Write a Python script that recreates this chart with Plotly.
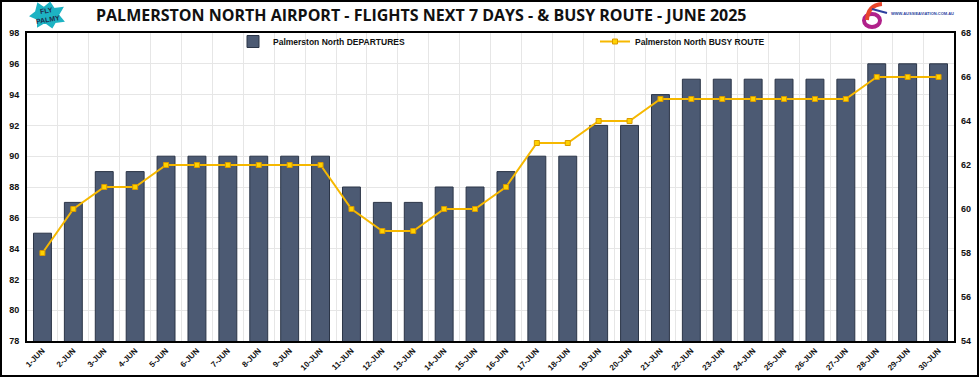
import plotly.graph_objects as go

dates = [f"{d}-JUN" for d in range(1, 31)]
departures = [85, 87, 89, 89, 90, 90, 90, 90, 90, 90,
              88, 87, 87, 88, 88, 89, 90, 90, 92, 92,
              94, 95, 95, 95, 95, 95, 95, 96, 96, 96]
busy_route = [58, 60, 61, 61, 62, 62, 62, 62, 62, 62,
              60, 59, 59, 60, 60, 61, 63, 63, 64, 64,
              65, 65, 65, 65, 65, 65, 65, 66, 66, 66]
left_ticks = list(range(78, 99, 2))
right_ticks = list(range(54, 69, 2))

title_text = "PALMERSTON NORTH AIRPORT - FLIGHTS NEXT 7 DAYS - & BUSY ROUTE - JUNE 2025"

fig = go.Figure()
fig.add_trace(go.Bar(
    x=dates, y=departures, name="Palmerston North DEPARTURES",
    marker=dict(color="#4c5a73", line=dict(color="#2b3547", width=1)),
    width=0.58, legend="legend",
))
fig.add_trace(go.Scatter(
    x=dates, y=busy_route, name="Palmerston North BUSY ROUTE", yaxis="y2",
    mode="lines+markers",
    line=dict(color="#f6b800", width=2),
    marker=dict(symbol="square", size=5, color="#ffd200", line=dict(color="#d99a00", width=1)),
    legend="legend2",
))

L, R, T, B = 27, 26, 33, 37
W, H = 980, 378
pw, ph = W - L - R, H - T - B

def px_x(p):
    return (p - L) / pw

def px_y(p):
    return (H - B - p) / ph

tick_font = dict(family="Liberation Sans", size=9, color="#111111", weight="bold")
legend_font = dict(family="Liberation Sans", size=8.5, color="#111111", weight="bold")

fig.update_layout(
    width=W, height=H,
    margin=dict(l=L, r=R, t=T, b=B, autoexpand=False),
    paper_bgcolor="white", plot_bgcolor="white",
    xaxis=dict(
        type="category", tickangle=-45,
        tickfont=dict(family="Liberation Sans", size=8, color="#111111", weight="bold"),
        showgrid=True, gridcolor="#e6e6e6", gridwidth=1, tickson="boundaries", ticks="",
        showline=True, linecolor="black", linewidth=2, mirror=True, automargin=False,
        range=[-0.5, 29.5],
    ),
    yaxis=dict(
        range=[78, 98], tickvals=left_ticks, tickfont=tick_font,
        showgrid=True, gridcolor="#e6e6e6", gridwidth=1, zeroline=False,
        showline=True, linecolor="black", linewidth=2, mirror=True, automargin=False,
        ticks="", ticklabelstandoff=4,
    ),
    yaxis2=dict(
        range=[54, 68], tickvals=right_ticks, tickfont=tick_font,
        overlaying="y", side="right", showgrid=False, zeroline=False,
        showline=False, automargin=False, ticks="", ticklabelstandoff=6,
    ),
    legend=dict(
        x=px_x(233), y=px_y(27), xanchor="left", yanchor="top", orientation="h",
        bgcolor="rgba(0,0,0,0)", font=legend_font, itemwidth=30,
    ),
    legend2=dict(
        x=px_x(595), y=px_y(27), xanchor="left", yanchor="top", orientation="h",
        bgcolor="rgba(0,0,0,0)", font=legend_font, itemwidth=30,
    ),
    showlegend=True,
)

# Title
fig.add_annotation(
    text=title_text, xref="paper", yref="paper", x=px_x(421), y=px_y(15),
    xanchor="center", yanchor="middle", showarrow=False,
    font=dict(family="Open Sans", size=16, color="#111111", weight="bold"),
)

shapes = []
# Outer frame
shapes.append(dict(type="rect", xref="paper", yref="paper",
                   x0=px_x(1), x1=px_x(978), y0=px_y(376), y1=px_y(1),
                   line=dict(color="black", width=2), fillcolor="rgba(0,0,0,0)", layer="above"))
# Left logo: teal blob
pts = [(38, 4), (44, 8), (50, 3), (54, 9), (62, 8), (58, 15), (63, 21), (55, 22), (52, 27),
       (45, 22), (38, 26), (38, 19), (31, 16), (36, 12)]
path = "M " + " L ".join(f"{px_x(x):.4f},{px_y(y):.4f}" for x, y in pts) + " Z"
shapes.append(dict(type="path", xref="paper", yref="paper", path=path,
                   fillcolor="#1db3c3", line=dict(color="#1db3c3", width=2)))
# Right logo: stylised "6"
shapes.append(dict(type="circle", xref="paper", yref="paper",
                   x0=px_x(864), x1=px_x(880), y0=px_y(27), y1=px_y(14),
                   fillcolor="rgba(0,0,0,0)", line=dict(color="#b0208a", width=4)))
shapes.append(dict(type="path", xref="paper", yref="paper",
                   path=f"M {px_x(867):.4f},{px_y(20):.4f} Q {px_x(868):.4f},{px_y(5):.4f} {px_x(882):.4f},{px_y(4):.4f}",
                   line=dict(color="#e8452c", width=4)))
shapes.append(dict(type="line", xref="paper", yref="paper",
                   x0=px_x(872), x1=px_x(887), y0=px_y(9), y1=px_y(13),
                   line=dict(color="#2b3f9e", width=2)))
fig.update_layout(shapes=shapes)

fig.add_annotation(
    text="<b>FLY<br>PALMY</b>", xref="paper", yref="paper", x=px_x(47), y=px_y(15),
    xanchor="center", yanchor="middle", showarrow=False, textangle=-10,
    font=dict(family="Liberation Sans Narrow, Liberation Sans", size=7, color="#1d2b4a"),
)
fig.add_annotation(
    text="WWW.AUSSIEAVIATION.COM.AU", xref="paper", yref="paper", x=px_x(889), y=px_y(13),
    xanchor="left", yanchor="middle", showarrow=False,
    font=dict(family="Liberation Sans", size=4, color="#2b3f9e", weight="bold"),
)

fig.write_html(
    "out.html",
    config={"displayModeBar": False},
    post_script="document.body.style.margin='0';document.body.style.overflow='hidden';",
)
